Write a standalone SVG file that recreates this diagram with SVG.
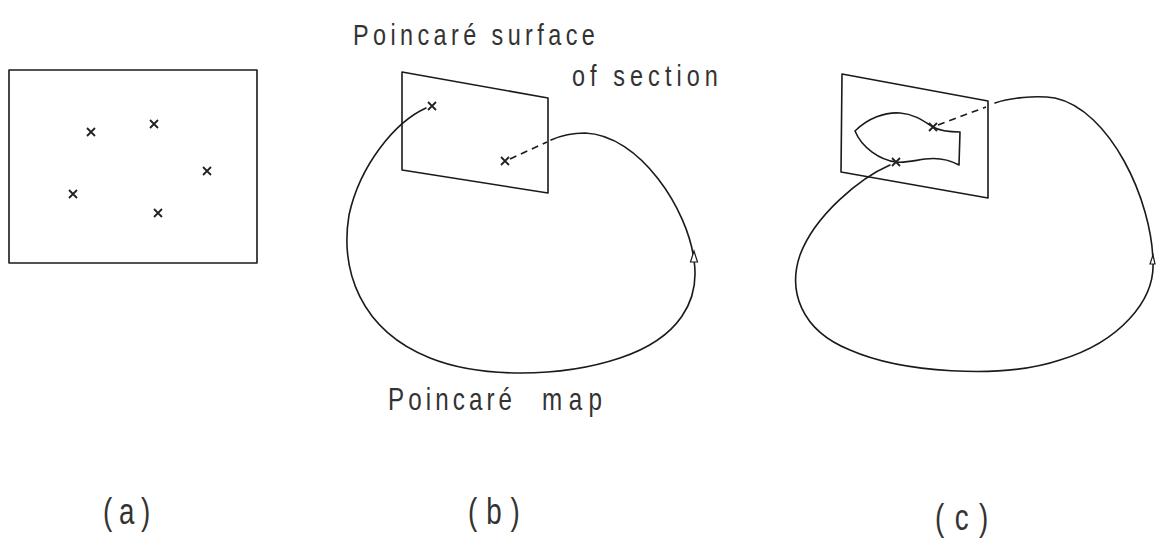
<svg xmlns="http://www.w3.org/2000/svg" width="1157" height="540" viewBox="0 0 1157 540">
<style>
.ln{fill:none;stroke:#1a1a1a;stroke-width:1.6;stroke-linejoin:round;stroke-linecap:round}
.dash{fill:none;stroke:#1a1a1a;stroke-width:1.6;stroke-dasharray:7 5}
.x{fill:none;stroke:#222;stroke-width:1.8}
.t{font-family:"Liberation Sans",Arial,sans-serif;fill:#333;font-weight:normal}
.arr{fill:#fff;stroke:#1a1a1a;stroke-width:1.2}
</style>
<defs>
<path id="cross" d="M-4,-4 L4,4 M-4,4 L4,-4" class="x"/>
</defs>
<rect width="1157" height="540" fill="#fff"/>

<g id="panel-a">
<rect x="9" y="70" width="248" height="193" class="ln"/>
<use href="#cross" x="91" y="132"/>
<use href="#cross" x="154" y="124"/>
<use href="#cross" x="207" y="171"/>
<use href="#cross" x="73" y="194"/>
<use href="#cross" x="158" y="213"/>
<text class="t" transform="translate(103,524) scale(0.75,1)" font-size="37" textLength="63" lengthAdjust="spacing">(a)</text>
</g>

<g id="panel-b">
<polygon points="402,72 548,98 548,193 402,170" class="ln"/>
<use href="#cross" x="432" y="106"/>
<use href="#cross" x="505" y="161"/>
<text class="t" transform="translate(353,45) scale(0.78,1)" font-size="30" textLength="310" lengthAdjust="spacing">Poincaré surface</text>
<text class="t" transform="translate(572,86) scale(0.78,1)" font-size="30" textLength="187" lengthAdjust="spacing">of section</text>
<text class="t" transform="translate(388,410) scale(0.78,1)" font-size="31" textLength="159" lengthAdjust="spacing">Poincaré</text>
<text class="t" transform="translate(542,410) scale(0.78,1)" font-size="31" textLength="77" lengthAdjust="spacing">map</text>
<text class="t" transform="translate(468,524) scale(0.75,1)" font-size="37" textLength="69" lengthAdjust="spacing">(b)</text>
</g>

<g id="panel-c">
<polygon points="842,74 988,101 988,198 841,172" class="ln"/>
<path class="ln" d="M855,131 C868,118 885,112 900,113 C915,114 925,122 933,127 C940,131 948,132 960,132 L959,165 C950,160 940,157 925,159 C912,161 905,163 896,162 C880,160 862,148 855,131 Z"/>
<use href="#cross" x="933" y="127"/>
<use href="#cross" x="896" y="162"/>
<text class="t" transform="translate(935,530) scale(0.75,1)" font-size="37" textLength="71" lengthAdjust="spacing">(c)</text>
</g>

<g id="connectors">
<path class="ln" d="M426,108 C395,122 360,165 349,215 C340,270 360,330 430,358 C480,378 560,378 620,358 C680,338 700,300 694,260 C688,210 640,135 585,133 C570,133 560,136 551,140"/>
<path class="dash" d="M510,159 L547,142"/>
<polygon class="arr" points="694,251 690.5,262 697.5,262"/>
<path class="ln" d="M890,165 C860,178 815,215 800,255 C788,290 800,330 850,350 C900,372 1000,380 1060,360 C1120,342 1155,300 1153,262 C1152,200 1110,110 1055,98 C1035,95 1010,98 995,103"/>
<path class="dash" d="M938,125 L986,107"/>
<polygon class="arr" points="1153,255 1150,264 1155,264"/>
</g>
</svg>
